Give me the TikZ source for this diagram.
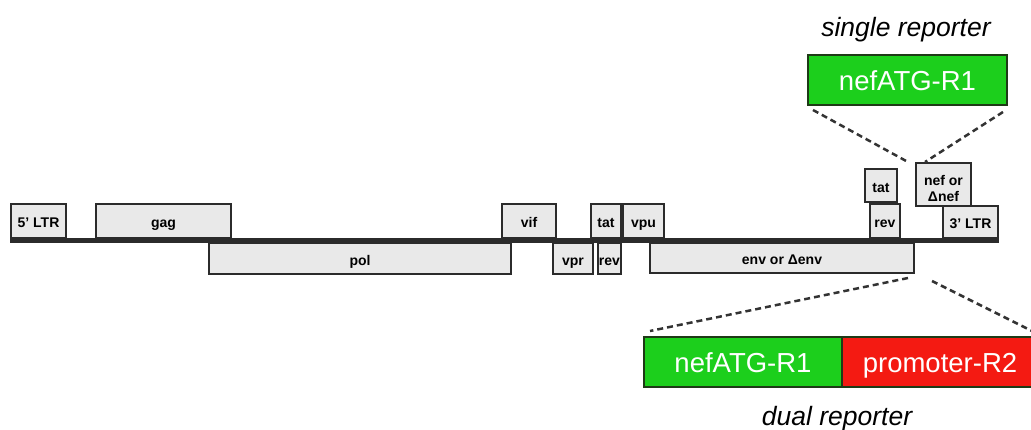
\documentclass[tikz,border=0pt]{standalone}
\usepackage{fontspec}
\setmainfont{Liberation Sans}
\usetikzlibrary{calc}

\definecolor{genefill}{HTML}{E9E9E9}
\definecolor{geneline}{HTML}{2B2B2B}
\definecolor{repgreen}{HTML}{1CCF1C}
\definecolor{repred}{HTML}{F41A12}
\definecolor{repline}{HTML}{1E3A16}
\definecolor{zoomline}{HTML}{333333}

\tikzset{
  gene/.style={draw=geneline, fill=genefill, line width=1.5pt, inner sep=0pt, outer sep=0pt,
    font=\fontsize{14}{16}\selectfont\bfseries, align=center, anchor=north west,
    text height=13pt, text depth=0pt},
  reporter/.style={draw=repline, line width=2pt, inner sep=0pt, outer sep=0pt, text=white,
    font=\fontsize{27.5}{30}\selectfont, anchor=north west, minimum height=50pt,
    text height=21.4pt, text depth=0pt},
  backbone/.style={draw=geneline, line width=5pt},
  zoomlink/.style={draw=zoomline, line width=2.5pt, dash pattern=on 6pt off 4pt},
  caption/.style={font=\fontsize{26.5}{28}\selectfont\itshape, text=black, anchor=base}
}

% gene box: name, x1, y1, x2, y2, label (pixel-style coordinates, y downwards)
\newcommand\gbox[7][]{\node[gene, minimum width={#5-#3}, minimum height={#6-#4}, #1] (#2) at (#3,#4) {#7};}

\begin{document}
\begin{tikzpicture}[x=1pt, y=-1pt]
\useasboundingbox (0,0) rectangle (1031,429);

% genome backbone
\coordinate (b0) at (10,240.5);
\coordinate (b1) at (999,240.5);
\draw[backbone] (b0) -- (b1);

% open reading frames above the backbone
\gbox{ltr5}{11}{204}{66}{238}{5’ LTR}
\gbox{gag}{96}{204}{231}{238}{gag}
\gbox{vif}{502}{204}{556}{238}{vif}
\gbox{tat}{591}{204}{621}{238}{tat}
\gbox{vpu}{623}{204}{664}{238}{vpu}
\gbox{revb}{870}{204}{900}{238}{rev}
\gbox{tatb}{865}{169}{897}{202}{tat}
\gbox[text height=33pt]{nef}{916}{163}{971}{206}{nef or\\Δnef}
\gbox{ltr3}{943}{206}{998}{238}{3’ LTR}

% open reading frames below the backbone
\gbox{pol}{209}{243}{511}{274}{pol}
\gbox{vpr}{553}{243}{593}{274}{vpr}
\gbox{rev}{598}{243}{621}{274}{rev}
\gbox{env}{650}{243}{914}{273}{env or Δenv}

% single reporter
\node[caption] (single cap) at (906,36) {single reporter};
\node[reporter, fill=repgreen, minimum width=199pt] (single) at (808,55) {nefATG-R1};

% dual reporter
\node[reporter, fill=repgreen, minimum width=198pt] (dualA) at (644,337) {nefATG-R1};
\node[reporter, fill=repred, minimum width=196pt] (dualB) at (842,337) {promoter-R2};
\node[caption] (dual cap) at (837,425) {dual reporter};

% zoom lines
\draw[zoomlink] ($(single.south west)+(5,5)$) -- ($(nef.north west)+(-8,-1)$);
\draw[zoomlink] ($(single.south east)+(-4,7)$) -- ($(nef.north west)+(9,-1)$);
\draw[zoomlink] ($(env.south east)+(-6,5)$) -- ($(dualA.north west)+(6,-6)$);
\draw[zoomlink] ($(env.south east)+(18,8)$) -- ($(dualB.north east)+(-6,-6)$);
\end{tikzpicture}
\end{document}
